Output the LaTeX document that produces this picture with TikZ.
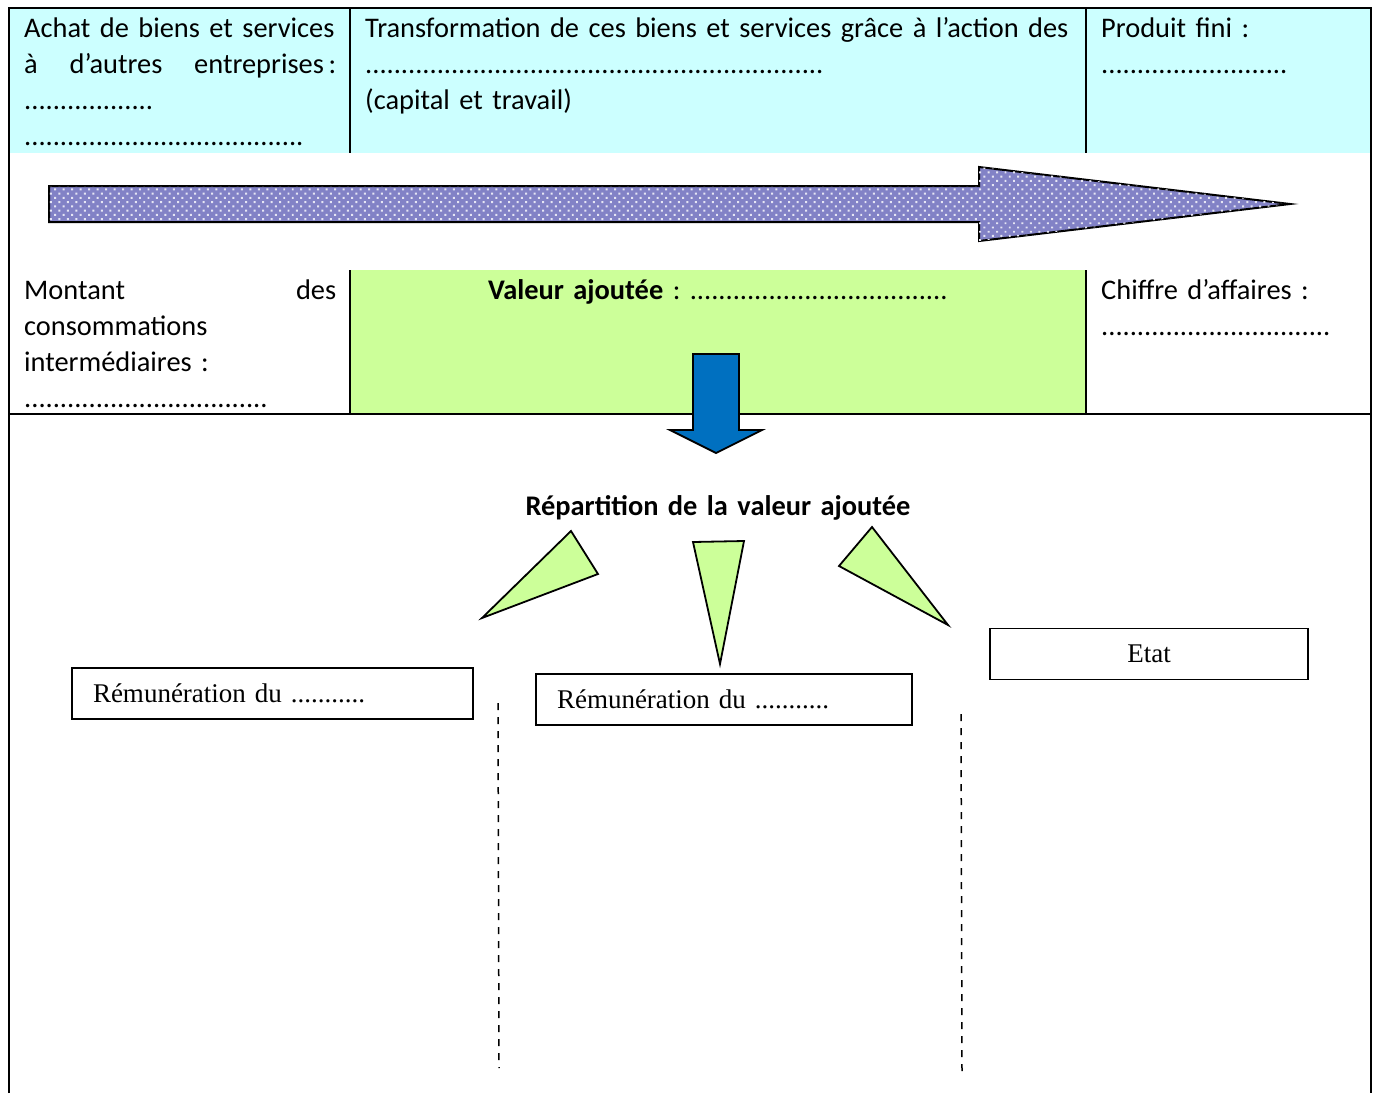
\documentclass[tikz,border=0pt]{standalone}
\usepackage{fontspec}
\setmainfont{Carlito}
\newfontfamily\timesf{Liberation Serif}
\usetikzlibrary{patterns.meta}
\definecolor{cyanbg}{HTML}{CCFFFF}
\definecolor{greenbg}{HTML}{CCFF99}
\definecolor{arrowblue}{HTML}{0070C0}
\definecolor{patbase}{HTML}{8282C6}
\frenchspacing
\begin{document}
\begin{tikzpicture}[x=1pt,y=-1pt,
  frame/.style={line width=2.5pt},
  cell/.style={inner sep=0pt, anchor=base west, align=left, text width=900pt, font=\fontsize{28.4}{36}\selectfont\frenchspacing},
  rembox/.style={draw, line width=1.8pt, minimum height=51pt, inner ysep=0pt, inner xsep=21pt, align=left, font=\timesf\fontsize{27}{30}\selectfont},
  wedge/.style={draw, line width=1.8pt, fill=greenbg, line join=miter},
  sep/.style={line width=1.5pt, dash pattern=on 7pt off 7pt}]
\useasboundingbox (0,0) rectangle (1376,1093);
% backgrounds
\fill[cyanbg] (9,8) rectangle (1371,153);
\fill[greenbg] (350,270) rectangle (1086,414);
% frame lines
\draw[frame] (9,1093) -- (9,8) -- (1371,8) -- (1371,1093);
\draw[frame] (350,8) -- (350,153);
\draw[frame] (1086,8) -- (1086,153);
\draw[frame] (350,270) -- (350,414);
\draw[frame] (1086,270) -- (1086,414);
\draw[frame] (9,414) -- (1371,414);
% top row texts
\node[cell] (achat) at (24,37) {Achat de biens et services\\ \makebox[312pt][l]{à\hfill d’autres\hfill entreprises\,:}\\ ..................\\ .......................................};
\node[cell] (transf) at (365,37) {Transformation de ces biens et services grâce à l’action des\\ ................................................................\\ (capital et travail)};
\node[cell, text width=260pt] (produit) at (1101,37) {Produit fini :\\ ..........................};
% big patterned arrow
\draw[line width=2pt, fill=patbase, postaction={pattern={Dots[radius=1.4pt, distance=6pt, angle=45]}, pattern color=white!80!patbase}]
  (49,186) -- (979,186) -- (979,167) -- (1290,204) -- (979,241) -- (979,222) -- (49,222) -- cycle;
% third row texts
\node[cell] (montant) at (24,299) {\makebox[312pt][l]{Montant\hfill des}\\ consommations\\ intermédiaires :\\ ..................................};
\node[cell, anchor=base, text width=700pt, align=center] (va) at (718,299) {\textbf{Valeur ajoutée} : ....................................};
\node[cell, text width=260pt] (ca) at (1101,299) {Chiffre d’affaires :\\ ................................};
% blue arrow
\draw[line width=1.8pt, fill=arrowblue]
  (693,354) -- (739,354) -- (739,430) -- (762,430) -- (716,453) -- (670,430) -- (693,430) -- cycle;
% title
\node[cell, anchor=base, text width=600pt, align=center] (rep) at (718,515) {\textbf{Répartition de la valeur ajoutée}};
% wedges
\draw[wedge] (482,618) -- (571,531) -- (598,574) -- cycle;
\draw[wedge] (693,542) -- (744,541) -- (720,664) -- cycle;
\draw[wedge] (839,566) -- (872,527) -- (948,625) -- cycle;
% boxes
\node[rembox, text width=359pt] (rem1) at (272.5,693.5) {Rémunération du ...........};
\node[rembox, text width=334pt] (rem2) at (724,699.5) {Rémunération du ...........};
\node[rembox, text width=276pt, align=center] (etat) at (1149,654) {Etat};
% dashed separators
\coordinate (d1a) at (498,703);
\coordinate (d1b) at (499,1068);
\coordinate (d2a) at (961,714);
\coordinate (d2b) at (962,1072);
\draw[sep] (d1a) -- (d1b);
\draw[sep] (d2a) -- (d2b);
\end{tikzpicture}
\end{document}
